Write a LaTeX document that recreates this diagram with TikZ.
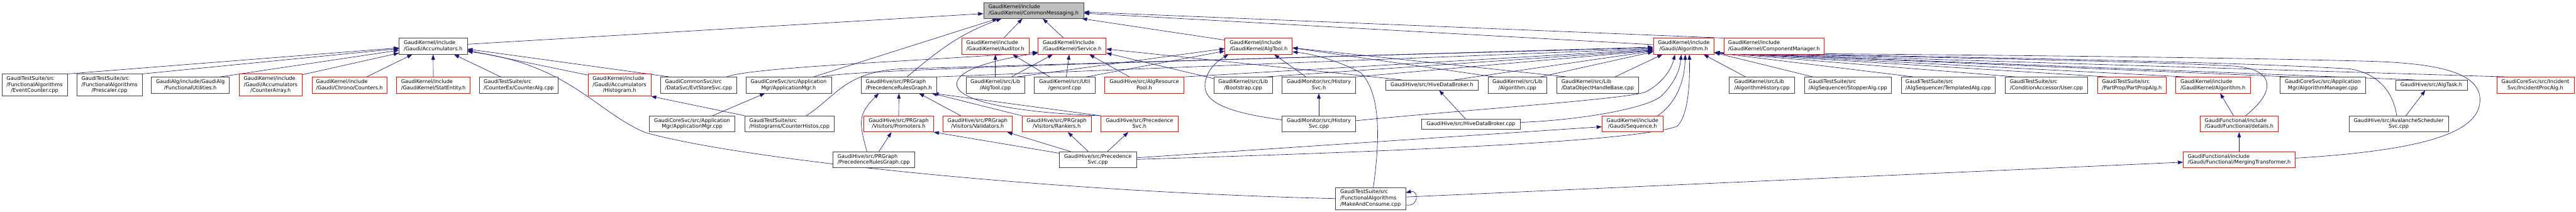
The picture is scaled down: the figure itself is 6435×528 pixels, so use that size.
\documentclass[tikz,border=0pt]{standalone}
\usepackage{fontspec}
\setmainfont{DejaVu Sans}
\usetikzlibrary{arrows.meta}
\definecolor{edgec}{HTML}{191970}
\definecolor{nodeb}{HTML}{404040}
\definecolor{mainf}{HTML}{BFBFBF}
\newcommand\gfont{\fontsize{12.85}{15.2}\selectfont}
\newcommand\lB[2]{\begin{tabular}{@{}l@{}}#1\\\multicolumn{1}{@{}c@{}}{#2}\end{tabular}}
\newcommand\lC[3]{\begin{tabular}{@{}l@{}}#1\\#2\\\multicolumn{1}{@{}c@{}}{#3}\end{tabular}}
\pgfdeclarelayer{bg}
\pgfsetlayers{bg,main}
\tikzset{
  nb/.style={draw=nodeb, fill=white, line width=1pt, inner sep=0pt, minimum height=40, font=\gfont, text=black},
  rb/.style={nb, draw=red},
  mb/.style={nb, fill=mainf},
  hthree/.style={minimum height=55},
  hone/.style={minimum height=25},
  edge/.style={draw=edgec, line width=1pt, -{Triangle[length=13pt,width=9pt]}}
}
\begin{document}
\begin{tikzpicture}[x=1pt,y=-1pt]
\useasboundingbox (0,0) rectangle (6435,528);
% row 0
\node[mb, minimum width=250] (cm) at (2582,26) {\lB{GaudiKernel/include}{/GaudiKernel/CommonMessaging.h}};
% row 1
\node[nb, minimum width=170] (acc) at (1082,115.5) {\lB{GaudiKernel/include}{/Gaudi/Accumulators.h}};
\node[rb, minimum width=167] (aud) at (2486.5,115.5) {\lB{GaudiKernel/include}{/GaudiKernel/Auditor.h}};
\node[rb, minimum width=170] (svc) at (2678,115.5) {\lB{GaudiKernel/include}{/GaudiKernel/Service.h}};
\node[rb, minimum width=168] (at) at (3144,115.5) {\lB{GaudiKernel/include}{/GaudiKernel/AlgTool.h}};
\node[rb, minimum width=152] (galg) at (4206,115.5) {\lB{GaudiKernel/include}{/Gaudi/Algorithm.h}};
\node[rb, minimum width=251] (cmgr) at (4431.5,115.5) {\lB{GaudiKernel/include}{/GaudiKernel/ComponentManager.h}};
% row 2
\node[nb, hthree, minimum width=163] (ec) at (86.5,212.5) {\lC{GaudiTestSuite/src}{/FunctionalAlgorithms}{/EventCounter.cpp}};
\node[nb, hthree, minimum width=163] (pre) at (273.5,212.5) {\lC{GaudiTestSuite/src}{/FunctionalAlgorithms}{/Prescaler.cpp}};
\node[nb, minimum width=195] (fu) at (475.5,212.5) {\lB{GaudiAlg/include/GaudiAlg}{/FunctionalUtilities.h}};
\node[rb, hthree, minimum width=158] (ca) at (676,212.5) {\lC{GaudiKernel/include}{/Gaudi/Accumulators}{/CounterArray.h}};
\node[rb, minimum width=188] (cc) at (873,212.5) {\lB{GaudiKernel/include}{/Gaudi/Chrono/Counters.h}};
\node[rb, minimum width=183] (se) at (1082.5,212.5) {\lB{GaudiKernel/include}{/GaudiKernel/StatEntity.h}};
\node[nb, minimum width=196] (calg) at (1296,212.5) {\lB{GaudiTestSuite/src}{/CounterEx/CounterAlg.cpp}};
\node[rb, hthree, minimum width=157] (hist) at (1547.5,212.5) {\lC{GaudiKernel/include}{/Gaudi/Accumulators}{/Histogram.h}};
\node[nb, minimum width=190] (ess) at (1745,212.5) {\lB{GaudiCommonSvc/src}{/DataSvc/EvtStoreSvc.cpp}};
\node[nb, minimum width=214] (amh) at (1970,212.5) {\lB{GaudiCoreSvc/src/Application}{Mgr/ApplicationMgr.h}};
\node[nb, minimum width=187] (prgh) at (2245.5,212.5) {\lB{GaudiHive/src/PRGraph}{/PrecedenceRulesGraph.h}};
\node[nb, minimum width=147] (atcpp) at (2486.5,212.5) {\lB{GaudiKernel/src/Lib}{/AlgTool.cpp}};
\node[nb, minimum width=151] (gen) at (2659.5,212.5) {\lB{GaudiKernel/src/Util}{/genconf.cpp}};
\node[rb, minimum width=197] (arp) at (2858.5,212.5) {\lB{GaudiHive/src/AlgResource}{Pool.h}};
\node[nb, minimum width=147] (boot) at (3105.5,212.5) {\lB{GaudiKernel/src/Lib}{/Bootstrap.cpp}};
\node[nb, minimum width=183] (hsh) at (3294.5,212.5) {\lB{GaudiMonitor/src/History}{Svc.h}};
\node[nb, hone, minimum width=232] (hdbh) at (3577,212.5) {GaudiHive/src/HiveDataBroker.h};
\node[nb, minimum width=147] (algcpp) at (3790.5,212.5) {\lB{GaudiKernel/src/Lib}{/Algorithm.cpp}};
\node[nb, minimum width=204] (dohb) at (3991,212.5) {\lB{GaudiKernel/src/Lib}{/DataObjectHandleBase.cpp}};
\node[nb, minimum width=163] (ahist) at (4401.5,212.5) {\lB{GaudiKernel/src/Lib}{/AlgorithmHistory.cpp}};
\node[nb, minimum width=218] (stop) at (4616,212.5) {\lB{GaudiTestSuite/src}{/AlgSequencer/StopperAlg.cpp}};
\node[nb, minimum width=235] (templ) at (4866.5,212.5) {\lB{GaudiTestSuite/src}{/AlgSequencer/TemplatedAlg.cpp}};
\node[nb, minimum width=206] (user) at (5112,212.5) {\lB{GaudiTestSuite/src}{/ConditionAccessor/User.cpp}};
\node[rb, minimum width=171] (ppa) at (5325.5,212.5) {\lB{GaudiTestSuite/src}{/PartProp/PartPropAlg.h}};
\node[rb, minimum width=186] (gkalg) at (5528,212.5) {\lB{GaudiKernel/include}{/GaudiKernel/Algorithm.h}};
\node[nb, minimum width=213] (amgr) at (5802.5,212.5) {\lB{GaudiCoreSvc/src/Application}{Mgr/AlgorithmManager.cpp}};
\node[nb, hone, minimum width=179] (task) at (6073.5,212.5) {GaudiHive/src/AlgTask.h};
\node[rb, minimum width=193] (ipa) at (6333.5,212.5) {\lB{GaudiCoreSvc/src/Incident}{Svc/IncidentProcAlg.h}};
% row 3
\node[nb, minimum width=214] (amcpp) at (1729,309.5) {\lB{GaudiCoreSvc/src/Application}{Mgr/ApplicationMgr.cpp}};
\node[nb, minimum width=224] (chist) at (1972,309.5) {\lB{GaudiTestSuite/src}{/Histograms/CounterHistos.cpp}};
\node[rb, minimum width=174] (prom) at (2245,309.5) {\lB{GaudiHive/src/PRGraph}{/Visitors/Promoters.h}};
\node[rb, minimum width=174] (valid) at (2442,309.5) {\lB{GaudiHive/src/PRGraph}{/Visitors/Validators.h}};
\node[rb, minimum width=173] (rank) at (2639.5,309.5) {\lB{GaudiHive/src/PRGraph}{/Visitors/Rankers.h}};
\node[rb, minimum width=193] (psh) at (2846.5,309.5) {\lB{GaudiHive/src/Precedence}{Svc.h}};
\node[nb, minimum width=183] (hscpp) at (3294.5,309.5) {\lB{GaudiMonitor/src/History}{Svc.cpp}};
\node[nb, hone, minimum width=247] (hdbcpp) at (3674.5,309.5) {GaudiHive/src/HiveDataBroker.cpp};
\node[rb, minimum width=152] (seq) at (4078,309.5) {\lB{GaudiKernel/include}{/Gaudi/Sequence.h}};
\node[rb, minimum width=195] (det) at (5593.5,309.5) {\lB{GaudiFunctional/include}{/Gaudi/Functional/details.h}};
\node[nb, minimum width=248] (aval) at (5992,309.5) {\lB{GaudiHive/src/AvalancheScheduler}{Svc.cpp}};
% row 4
\node[nb, minimum width=203] (prgcpp) at (2182.5,399) {\lB{GaudiHive/src/PRGraph}{/PrecedenceRulesGraph.cpp}};
\node[nb, minimum width=193] (pscpp) at (2742.5,399) {\lB{GaudiHive/src/Precedence}{Svc.cpp}};
\node[rb, minimum width=279] (merge) at (5593.5,399) {\lB{GaudiFunctional/include}{/Gaudi/Functional/MergingTransformer.h}};
% row 5
\node[nb, hthree, minimum width=175] (mac) at (3423.5,496) {\lC{GaudiTestSuite/src}{/FunctionalAlgorithms}{/MakeAndConsume.cpp}};

\begin{pgfonlayer}{bg}
% into CommonMessaging
\draw[edge] ([yshift=5]acc.east) -- ([yshift=-8]cm.west);
\draw[edge] ([xshift=62]amh.north) -- ([xshift=-90]cm.south);
\draw[edge] ([xshift=20]prgh.north) to[out=40,in=-160] ([xshift=-80]cm.south);
\draw[edge] ([xshift=21]aud.north) -- ([xshift=-28]cm.south);
\draw[edge] ([xshift=-21]svc.north) -- ([xshift=23]cm.south);
\draw[edge] ([yshift=-5]at.north west) -- ([xshift=-5]cm.south east);
\draw[edge] (cmgr.north west) -- ([yshift=-4]cm.east);
\draw[edge] ([yshift=4]galg.west) -- ([yshift=-7]cm.east);
% into Accumulators
\draw[edge] (ec.north east) -- ([yshift=-4]acc.west);
\draw[edge] (pre.north east) -- ([yshift=-6]acc.west);
\draw[edge] ([xshift=74]fu.north) -- ([yshift=-10]acc.west);
\draw[edge] ([yshift=-2]ca.north east) -- ([yshift=-17]acc.west);
\draw[edge] ([xshift=43]cc.north) -- ([xshift=-52]acc.south);
\draw[edge] (se.north) -- (acc.south);
\draw[edge] ([xshift=-45]calg.north) -- ([xshift=52]acc.south);
\draw[edge] ([xshift=-72]ess.north) -- ([yshift=-7]acc.east);
\draw[edge] ([yshift=-3]hist.north west) -- ([yshift=-10]acc.east);
\draw[edge] (mac.west) .. controls (2600,478) and (1850,398) .. (1612,331) .. controls (1490,280) and (1420,160) .. ([yshift=-13]acc.east);
% ApplicationMgr / Histogram
\draw[edge] ([xshift=51]amcpp.north) -- ([xshift=-59]amh.south);
\draw[edge] ([xshift=1]chist.north west) -- (hist.south east);
% into Service
\draw[edge] ([xshift=70]ess.north) .. controls (1880,168) and (2250,155) .. ([yshift=-15]svc.west);
\draw[edge] (psh.north west) .. controls (2550,282) and (2390,255) .. (2390,210) .. controls (2390,175) and (2480,150) .. ([yshift=-17]svc.west);
\draw[edge] ([xshift=40]atcpp.north) -- ([xshift=-48]svc.south);
\draw[edge] ([xshift=4]gen.north) -- ([xshift=-7]svc.south);
\draw[edge] ([xshift=-37]arp.north) -- ([xshift=43]svc.south);
\draw[edge] ([yshift=-4]boot.north west) -- ([yshift=-17]svc.east);
\draw[edge] ([xshift=-75]hdbh.north) -- ([yshift=-7]svc.east);
% into Auditor
\draw[edge] (atcpp.north) -- (aud.south);
\draw[edge] ([xshift=39]gen.north west) -- ([xshift=43]aud.south);
% into AlgTool
\draw[edge] ([xshift=54]atcpp.north) -- ([yshift=-6]at.west);
\draw[edge] ([xshift=54]gen.north) -- ([yshift=-12]at.west);
\draw[edge] ([yshift=10]hscpp.west) .. controls (3100,285) and (3010,265) .. (3010,215) .. controls (3010,175) and (3045,150) .. ([xshift=-75]at.south);
\draw[edge] ([xshift=-32]hsh.north) -- ([xshift=39]at.south);
\draw[edge] ([xshift=-58]algcpp.north) -- ([yshift=-4]at.east);
\draw[edge] ([xshift=-77]dohb.north) -- ([yshift=-4]at.east);
\draw[edge] ([xshift=7]mac.north) .. controls (3450,330) and (3445,230) .. (3400,182) .. controls (3340,150) and (3280,135) .. ([yshift=-14]at.east);
% PRGraph family
\draw[edge] (psh.north west) -- ([xshift=-8]prgh.south east);
\draw[edge] (rank.north west) -- ([xshift=-12]prgh.south east);
\draw[edge] ([xshift=-42]valid.north) -- ([xshift=50]prgh.south);
\draw[edge] (prom.north) -- (prgh.south);
\draw[edge] ([xshift=-17]prgcpp.north) to[out=105,in=-135,looseness=1.3] ([xshift=-50]prgh.south);
\draw[edge] ([xshift=13]prgcpp.north) -- ([xshift=-18]prom.south);
\draw[edge] ([yshift=-4]pscpp.north west) -- (prom.south east);
\draw[edge] ([xshift=-68]pscpp.north) -- ([xshift=74]valid.south);
\draw[edge] ([xshift=-24]pscpp.north) -- ([xshift=28]rank.south);
\draw[edge] ([xshift=24]pscpp.north) -- ([xshift=-28]psh.south);
\draw[edge] ([yshift=5]pscpp.east) -- ([yshift=-7]seq.west);
% into Gaudi/Algorithm.h from left / below
\draw[edge] ([yshift=1]pscpp.east) .. controls (3600,375) and (4100,350) .. (4190,315) .. controls (4215,290) and (4222,220) .. ([xshift=14]galg.south);
\draw[edge] ([yshift=8]hscpp.east) .. controls (3650,275) and (4060,248) .. (4110,230) .. controls (4150,210) and (4175,175) .. ([xshift=-22]galg.south);
\draw[edge] ([yshift=4]hdbcpp.east) .. controls (3950,300) and (4115,270) .. (4150,240) .. controls (4185,205) and (4196,175) .. ([xshift=-6]galg.south);
\draw[edge] ([xshift=63]seq.north) .. controls (4190,255) and (4208,200) .. ([xshift=4]galg.south);
\draw[edge] ([xshift=43]dohb.north) -- ([xshift=-53]galg.south);
\draw[edge] ([xshift=57]algcpp.north) -- ([yshift=-14]galg.west);
\draw[edge] ([xshift=82]amh.north) .. controls (2100,180) and (2400,165) .. ([yshift=-4]galg.west);
\draw[edge] ([xshift=42]chist.north) .. controls (2090,240) and (2110,180) .. (2250,172) .. controls (3000,150) and (3900,125) .. ([yshift=-2]galg.west);
\draw[edge] (prgh.north east) -- ([yshift=-6]galg.west);
\draw[edge] (arp.north east) -- ([yshift=-8]galg.west);
\draw[edge] ([xshift=56]boot.north) -- ([yshift=-10]galg.west);
\draw[edge] (hsh.north east) -- ([yshift=-11]galg.west);
\draw[edge] ([xshift=56]hdbh.north) -- ([yshift=-12]galg.west);
% into Gaudi/Algorithm.h from right
\draw[edge] ([xshift=-41]ahist.north) -- ([xshift=-27]galg.south east);
\draw[edge] ([xshift=-87]stop.north) -- ([yshift=-16]galg.east);
\draw[edge] ([xshift=-86]templ.north) -- ([yshift=-16]galg.east);
\draw[edge] ([xshift=-76]user.north) -- ([yshift=-16]galg.east);
\draw[edge] ([xshift=-62]ppa.north) -- ([yshift=-16]galg.east);
\draw[edge] ([xshift=-68]gkalg.north) -- ([yshift=-16]galg.east);
\draw[edge] ([xshift=-80]amgr.north) -- ([yshift=-16]galg.east);
\draw[edge] ([xshift=-41]task.north) -- ([yshift=-16]galg.east);
\draw[edge] ([xshift=-72]ipa.north) -- ([yshift=-16]galg.east);
\draw[edge] ([xshift=16]det.north) .. controls (5690,225) and (5680,172) .. (5580,165) .. controls (5300,150) and (4600,140) .. ([yshift=-16]galg.east);
\draw[edge] ([xshift=-5]aval.north) .. controls (5980,240) and (5950,185) .. (5870,172) .. controls (5500,150) and (4700,140) .. ([yshift=-16]galg.east);
\draw[edge] ([yshift=4]merge.east) .. controls (6060,375) and (6200,330) .. (6195,245) .. controls (6190,170) and (6050,155) .. (5880,152) .. controls (5400,140) and (4700,136) .. ([yshift=-16]galg.east);
% others
\draw[edge] ([xshift=-14]det.north) -- ([xshift=18]gkalg.south);
\draw[edge] (merge.north) -- (det.south);
\draw[edge] ([xshift=18]aval.north) -- ([xshift=-15]task.south);
\draw[edge] ([xshift=-14]hdbcpp.north) -- ([xshift=18]hdbh.south);
\draw[edge] (hscpp.north) -- (hsh.south);
\draw[edge] ([yshift=4]mac.east) -- ([yshift=-6]merge.west);
\draw[edge] ([yshift=-16]mac.east) .. controls (3545,518) and (3545,474) .. ([yshift=15]mac.east);
\end{pgfonlayer}
\end{tikzpicture}
\end{document}
